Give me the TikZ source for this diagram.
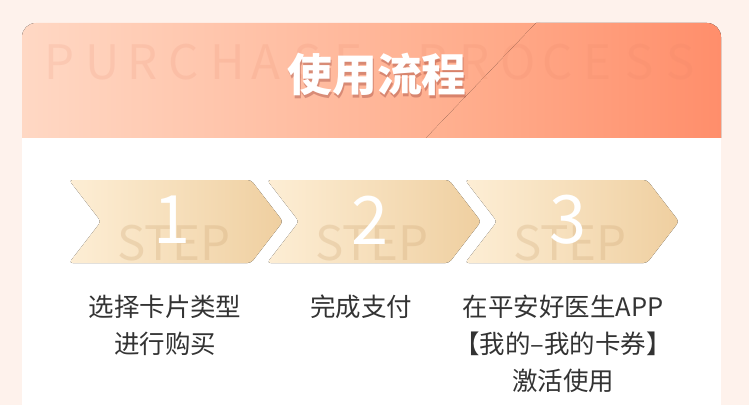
\documentclass[tikz,border=0pt]{standalone}
\usepackage{fontspec}
\usepackage{xcolor}
\newfontfamily\cjk{Noto Sans CJK SC}
\usetikzlibrary{positioning}
\definecolor{pagebg}{RGB}{254,242,236}
\definecolor{hdrA}{RGB}{255,216,196}
\definecolor{hdrB}{RGB}{255,166,132}
\definecolor{hdrC}{RGB}{255,178,146}
\definecolor{hdrD}{RGB}{255,142,107}
\definecolor{chevL}{RGB}{253,238,213}
\definecolor{chevR}{RGB}{239,207,160}
\definecolor{markc}{RGB}{205,165,115}
\definecolor{wmarkc}{RGB}{230,130,100}
\definecolor{txt}{RGB}{51,51,51}

\begin{document}
\begin{tikzpicture}[x=0.02cm,y=-0.02cm,
  stepbox/.style={rounded corners=2pt,left color=chevL,right color=chevR},
  steptext/.style={font=\cjk\fontsize{14.5}{21}\selectfont,text=txt,align=center,inner sep=0pt},
  stepnum/.style={font=\cjk\fontsize{38}{38}\selectfont,text=white,inner sep=0pt},
  stepmark/.style={font=\cjk\fontsize{27}{27}\selectfont,text=markc,opacity=0.28,inner sep=0pt},
  wmark/.style={font=\cjk\fontsize{27}{27}\selectfont,text=wmarkc,opacity=0.14,inner sep=0pt},
  titletext/.style={font=\cjk\bfseries\fontsize{25.5}{25.5}\selectfont,inner sep=0pt}]
\useasboundingbox[fill=pagebg](0,0)rectangle(749,405);
\fill[white](22,138)rectangle(721,405);
% header band
\begin{scope}
\clip[rounded corners=0.28cm](22,170)--(22,23)--(721,23)--(721,170)--cycle;
\fill[left color=hdrA,right color=hdrB](22,23)rectangle(540,138);
\fill[left color=hdrC,right color=hdrD](536,23)--(721,23)--(721,138)--(426,138)--cycle;
\foreach \ch [count=\i from 0] in {P,U,R,C,H,A,S,E,{},P,R,O,C,E,S,S}
  \node[wmark,anchor=base west](w\i) at (44+41.5*\i,80){\ch};
\end{scope}
\node[titletext,text=black!60!red,opacity=0.25](titleshadow) at (378,78){使用流程};
\node[titletext,text=white](title) at (377,75){使用流程};
% steps
\foreach \n/\xl in {1/69,2/267,3/465}{
  \fill[stepbox](\xl,180)--++(182,0)--++(32,41.5)--++(-32,41.5)--++(-182,0)--++(32,-41.5)--cycle;
  \node[stepmark](mark\n) at (\xl+105,243){STEP};
  \node[stepnum](num\n) at (\xl+103,220){\n};
}
\node[steptext,anchor=north](desc1) at (165,295){选择卡片类型\\进行购买};
\node[steptext,anchor=north](desc2) at (361,295){完成支付};
\node[steptext,anchor=north](desc3) at (563,295){在平安好医生APP\\【我的–我的卡券】\\激活使用};
\end{tikzpicture}
\end{document}
